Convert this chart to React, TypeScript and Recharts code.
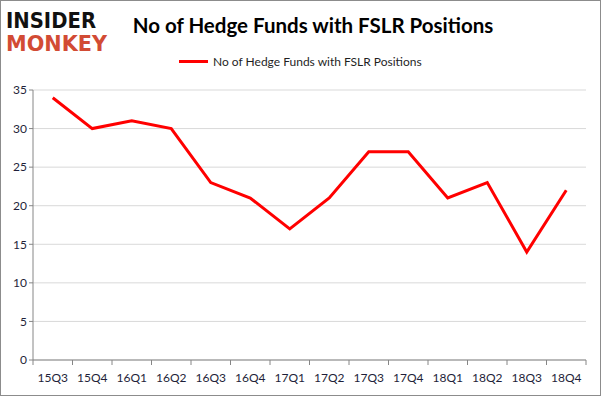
import { LineChart, Line, XAxis, YAxis, CartesianGrid } from "recharts";

const quarters = ["15Q3", "15Q4", "16Q1", "16Q2", "16Q3", "16Q4", "17Q1", "17Q2", "17Q3", "17Q4", "18Q1", "18Q2", "18Q3", "18Q4"];
const hedgeFunds = [34, 30, 31, 30, 23, 21, 17, 21, 27, 27, 21, 23, 14, 22];
const yTicks = [0, 5, 10, 15, 20, 25, 30, 35];

const seriesName = "No of Hedge Funds with FSLR Positions";
const font = "Lato, 'Open Sans', sans-serif";

const data = quarters.map((q, i) => ({ quarter: q, funds: hedgeFunds[i] }));

const BAND = 553 / quarters.length;

// label plus a tick mark at the band boundaries
const QuarterTick = (props: any) => {
  const { x, y, payload, index } = props;
  const half = BAND / 2;
  return (
    <g>
      <line x1={x - half} y1={y - 8} x2={x - half} y2={y - 3} stroke="#868686" />
      {index === quarters.length - 1 && (
        <line x1={x + half} y1={y - 8} x2={x + half} y2={y - 3} stroke="#868686" />
      )}
      <text x={x} y={y + 14} textAnchor="middle" fill="#1f1f3a" fontSize={12} fontFamily={font}>
        {payload.value}
      </text>
    </g>
  );
};

export default function App() {
  return (
    <div
      style={{
        position: "absolute",
        left: 0,
        top: 0,
        width: 601,
        height: 396,
        boxSizing: "border-box",
        border: "1px solid #8c8c8c",
        background: "#fff",
        fontFamily: font,
      }}
    >
      <svg width={110} height={55} style={{ position: "absolute", left: 4, top: 6 }}>
        <text x={1} y={21} fontFamily="'DejaVu Sans', sans-serif" fontWeight="bold" fontSize={21}
          textLength={90} lengthAdjust="spacingAndGlyphs" fill="#111">INSIDER</text>
        <text x={1} y={44} fontFamily="'DejaVu Sans', sans-serif" fontWeight="bold" fontSize={22}
          textLength={101} lengthAdjust="spacingAndGlyphs" fill="#d24b34">MONKEY</text>
      </svg>
      <div
        style={{
          position: "absolute",
          left: 112,
          width: 400,
          top: 12,
          textAlign: "center",
          fontSize: 20.5,
          fontWeight: "bold",
          color: "#000",
        }}
      >
        {seriesName}
      </div>
      <div style={{ position: "absolute", left: 178, top: 53, display: "flex", alignItems: "center", fontSize: 12, color: "#1f1f1f" }}>
        <span style={{ display: "inline-block", width: 29, height: 3, background: "#ff0000", marginRight: 5 }} />
        {seriesName}
      </div>
      <div style={{ position: "absolute", left: -1, top: -1 }}>
        <LineChart width={601} height={396} data={data} margin={{ top: 90, right: 15, bottom: 6, left: 0 }}>
          <CartesianGrid vertical={false} stroke="#d9d9d9" />
          <XAxis
            dataKey="quarter"
            scale="band"
            height={30}
            stroke="#868686"
            tickLine={false}
            interval={0}
            tick={<QuarterTick />}
          />
          <YAxis
            domain={[0, 35]}
            ticks={yTicks}
            width={33}
            stroke="#868686"
            tickSize={4}
            tick={{ fill: "#1f1f3a", fontSize: 12, fontFamily: font }}
          />
          <Line
            dataKey="funds"
            name={seriesName}
            stroke="#ff0000"
            strokeWidth={3}
            dot={false}
            isAnimationActive={false}
          />
        </LineChart>
      </div>
    </div>
  );
}
